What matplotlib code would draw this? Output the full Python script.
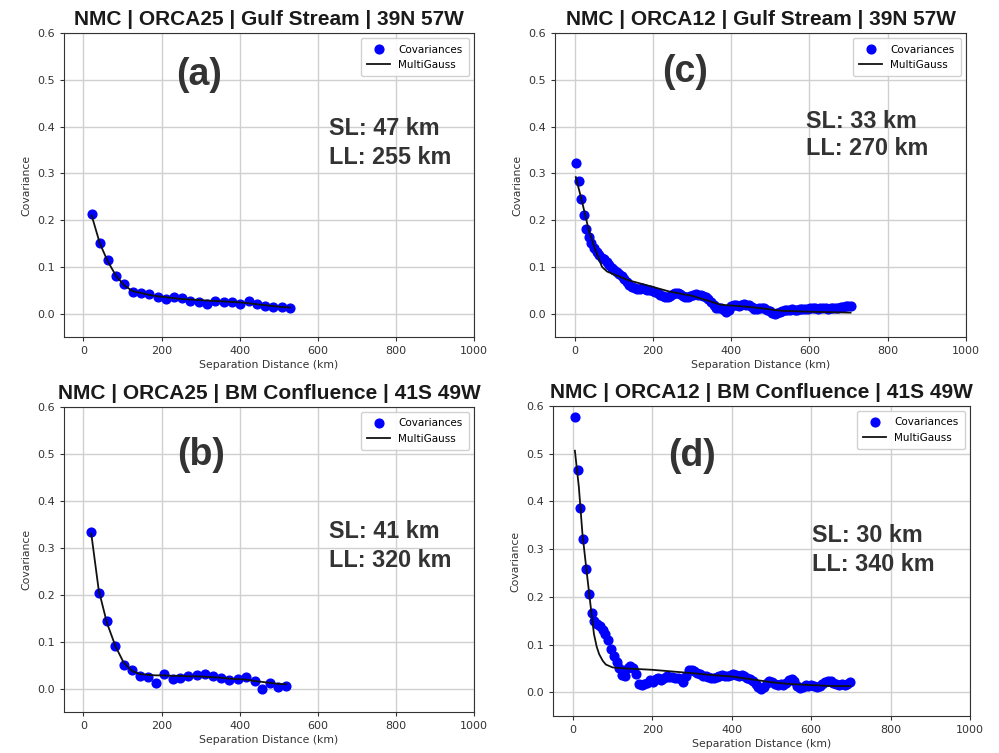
#!/usr/bin/env python3
import matplotlib
matplotlib.use('Agg')
import matplotlib.pyplot as plt

# ---- panel (a): ORCA25 Gulf Stream
dist_a = [21, 42, 62, 84, 105, 126, 148, 169, 190, 211, 232, 253, 274, 295, 316,
          338, 359, 380, 402, 423, 444, 465, 486, 508, 529]
cov_a = [0.213, 0.151, 0.114, 0.081, 0.063, 0.047, 0.044, 0.041, 0.035, 0.031, 0.035, 0.033, 0.028,
         0.024, 0.020, 0.026, 0.025, 0.025, 0.021, 0.028, 0.021, 0.016, 0.015, 0.015, 0.013]
fit_a = [0.210, 0.150, 0.112, 0.080, 0.060, 0.048, 0.044, 0.040, 0.037, 0.035, 0.033, 0.031, 0.030,
         0.029, 0.028, 0.027, 0.026, 0.025, 0.024, 0.022, 0.020, 0.018, 0.016, 0.014, 0.013]

# ---- panel (b): ORCA25 BM Confluence
dist_b = [20, 39, 60, 82, 103, 125, 144, 165, 186, 207, 228, 248, 268, 290, 311,
          332, 352, 373, 395, 416, 438, 458, 478, 498, 519]
cov_b = [0.333, 0.204, 0.143, 0.091, 0.050, 0.039, 0.026, 0.024, 0.011, 0.030, 0.021, 0.023, 0.026,
         0.028, 0.030, 0.026, 0.023, 0.018, 0.020, 0.024, 0.016, 0.000, 0.011, 0.004, 0.006]
fit_b = [0.330, 0.210, 0.140, 0.090, 0.055, 0.037, 0.031, 0.029, 0.028, 0.028, 0.027, 0.027, 0.026,
         0.026, 0.025, 0.024, 0.023, 0.021, 0.020, 0.019, 0.016, 0.014, 0.012, 0.010, 0.009]

# ---- panel (c): ORCA12 Gulf Stream
dist_c = [4, 10, 17, 23, 30, 36, 43, 49, 56, 62, 69, 75, 82, 88, 95, 101, 108, 114, 121, 127,
          134, 140, 147, 153, 160, 166, 173, 179, 186, 192, 199, 205, 212, 218, 225, 231, 238,
          244, 251, 257, 264, 270, 277, 283, 290, 296, 303, 309, 316, 322, 329, 335, 342, 348,
          355, 361, 368, 374, 381, 387, 394, 400, 407, 413, 420, 426, 433, 439, 446, 452, 459,
          465, 472, 478, 485, 491, 498, 504, 511, 517, 524, 530, 537, 543, 550, 556, 563, 569,
          576, 582, 589, 595, 602, 608, 615, 621, 628, 634, 641, 647, 654, 660, 667, 673, 680,
          686, 693, 699, 706]
cov_c = [0.322, 0.284, 0.246, 0.211, 0.182, 0.164, 0.152, 0.141, 0.132, 0.126, 0.120, 0.116,
         0.111, 0.104, 0.098, 0.094, 0.089, 0.085, 0.080, 0.075, 0.068, 0.061, 0.057, 0.054,
         0.053, 0.052, 0.054, 0.053, 0.051, 0.050, 0.048, 0.047, 0.043, 0.040, 0.038, 0.036,
         0.036, 0.037, 0.041, 0.045, 0.044, 0.041, 0.038, 0.036, 0.035, 0.037, 0.040, 0.041,
         0.039, 0.040, 0.038, 0.036, 0.031, 0.025, 0.018, 0.013, 0.011, 0.012, 0.008, 0.004,
         0.008, 0.016, 0.019, 0.018, 0.017, 0.019, 0.020, 0.019, 0.018, 0.015, 0.010, 0.009,
         0.011, 0.013, 0.011, 0.008, 0.005, 0.002, 0.000, 0.001, 0.004, 0.006, 0.008, 0.007,
         0.008, 0.009, 0.008, 0.007, 0.009, 0.010, 0.009, 0.009, 0.011, 0.012, 0.011, 0.010,
         0.011, 0.012, 0.011, 0.010, 0.012, 0.012, 0.011, 0.013, 0.015, 0.014, 0.016, 0.017,
         0.016]
fitdist_c = [3, 18, 36, 53, 70, 83, 100, 139, 200, 243, 300, 347, 373, 451, 529, 600, 705]
fit_c = [0.292, 0.243, 0.179, 0.136, 0.100, 0.090, 0.084, 0.071, 0.057, 0.047, 0.038, 0.026,
         0.019, 0.014, 0.006, 0.004, 0.002]

# ---- panel (d): ORCA12 BM Confluence
dist_d = [5, 12, 19, 26, 33, 40, 47, 54, 61, 68, 75, 82, 89, 96, 103, 110, 117, 124, 131, 138,
          145, 152, 159, 166, 173, 180, 187, 194, 201, 208, 215, 222, 229, 236, 243, 250, 257,
          264, 271, 278, 285, 292, 299, 306, 313, 320, 327, 334, 341, 348, 355, 362, 369, 376,
          383, 390, 397, 404, 411, 418, 425, 432, 439, 446, 453, 460, 467, 474, 481, 488, 495,
          502, 509, 516, 523, 530, 537, 544, 551, 558, 565, 572, 579, 586, 593, 600, 607, 614,
          621, 628, 635, 642, 649, 656, 663, 670, 677, 684, 691, 698]
cov_d = [0.577, 0.466, 0.385, 0.322, 0.259, 0.206, 0.166, 0.150, 0.144, 0.138, 0.130, 0.121,
         0.109, 0.090, 0.075, 0.063, 0.050, 0.036, 0.035, 0.050, 0.056, 0.050, 0.038, 0.018,
         0.015, 0.017, 0.020, 0.026, 0.022, 0.027, 0.029, 0.025, 0.030, 0.033, 0.031, 0.032,
         0.029, 0.030, 0.027, 0.022, 0.033, 0.047, 0.046, 0.044, 0.041, 0.038, 0.034, 0.035,
         0.031, 0.030, 0.029, 0.032, 0.034, 0.036, 0.035, 0.033, 0.036, 0.038, 0.037, 0.035,
         0.036, 0.034, 0.030, 0.028, 0.024, 0.018, 0.010, 0.007, 0.012, 0.019, 0.024, 0.022,
         0.017, 0.016, 0.018, 0.015, 0.019, 0.025, 0.028, 0.024, 0.014, 0.008, 0.011, 0.016,
         0.014, 0.015, 0.013, 0.011, 0.014, 0.017, 0.021, 0.024, 0.023, 0.020, 0.017, 0.015,
         0.017, 0.016, 0.018, 0.021]
fitdist_d = [5, 15, 24, 35, 45, 53, 60, 66, 75, 83, 100, 130, 200, 300, 350, 400, 450, 500,
             550, 600, 650, 698]
fit_d = [0.506, 0.430, 0.332, 0.250, 0.178, 0.122, 0.095, 0.080, 0.066, 0.058, 0.052, 0.050,
         0.047, 0.040, 0.036, 0.033, 0.027, 0.021, 0.017, 0.015, 0.013, 0.013]

titles = ['NMC | ORCA25 | Gulf Stream | 39N 57W', 'NMC | ORCA25 | BM Confluence | 41S 49W',
          'NMC | ORCA12 | Gulf Stream | 39N 57W', 'NMC | ORCA12 | BM Confluence | 41S 49W']
panel_tags = ['(a)', '(b)', '(c)', '(d)']
sl_labels = ['SL: 47 km', 'SL: 41 km', 'SL: 33 km', 'SL: 30 km']
ll_labels = ['LL: 255 km', 'LL: 320 km', 'LL: 270 km', 'LL: 340 km']


def make_panel(fig, rect, dist, cov, fitdist, fit, title, tag, tagpos, sl, ll, slpos):
    axis = fig.add_axes(rect)
    axis.plot(dist, cov, 'o', color='blue', markersize=6.3, label='Covariances', zorder=3)
    axis.plot(fitdist, fit, '-', color='#111111', linewidth=1.3, label='MultiGauss', zorder=4)
    axis.set_xlim(-50, 1000)
    axis.set_ylim(-0.05, 0.6)
    axis.set_xticks([0, 200, 400, 600, 800, 1000])
    axis.set_yticks([0.0, 0.1, 0.2, 0.3, 0.4, 0.5, 0.6])
    axis.grid(True, color='#d0d0d0', linewidth=1.0)
    axis.set_axisbelow(True)
    axis.tick_params(labelsize=8, colors='#333333', length=3)
    for spine in axis.spines.values():
        spine.set_color('#333333')
    axis.set_xlabel('Separation Distance (km)', fontsize=7.8, color='#333333', labelpad=3)
    axis.set_ylabel('Covariance', fontsize=7.8, color='#333333')
    axis.set_title(title, fontsize=15, fontweight='bold', family='Liberation Sans',
                   color='#1a1a1a', pad=6)
    axis.legend(loc='upper right', fontsize=7.5, handlelength=2.2, borderpad=0.6,
                labelspacing=0.5, framealpha=0.9, edgecolor='#cccccc')
    axis.text(tagpos[0], tagpos[1], tag, fontsize=27, fontweight='bold', family='Liberation Sans',
              color='#333333', ha='center', va='center')
    axis.text(slpos[0], slpos[1], sl, fontsize=16.8, fontweight='bold', family='Liberation Sans',
              color='#333333', ha='left', va='baseline')
    axis.text(slpos[0], slpos[2], ll, fontsize=16.8, fontweight='bold', family='Liberation Sans',
              color='#333333', ha='left', va='baseline')
    return axis


def main():
    fig = plt.figure(figsize=(9.99, 7.53), dpi=100)
    make_panel(fig, [0.064, 0.5525, 0.4105, 0.4035], dist_a, cov_a, dist_a, fit_a,
               titles[0], panel_tags[0], (297, 0.51), sl_labels[0], ll_labels[0], (628, 0.382, 0.32))
    make_panel(fig, [0.064, 0.0545, 0.4105, 0.405], dist_b, cov_b, dist_b, fit_b,
               titles[1], panel_tags[1], (302, 0.498), sl_labels[1], ll_labels[1], (628, 0.321, 0.26))
    make_panel(fig, [0.5556, 0.5525, 0.4114, 0.4035], dist_c, cov_c, fitdist_c, fit_c,
               titles[2], panel_tags[2], (282, 0.516), sl_labels[2], ll_labels[2], (591, 0.398, 0.34))
    make_panel(fig, [0.5536, 0.049, 0.4174, 0.412], dist_d, cov_d, fitdist_d, fit_d,
               titles[3], panel_tags[3], (299, 0.496), sl_labels[3], ll_labels[3], (602, 0.314, 0.255))
    fig.savefig('out.png', dpi=100)
    plt.close()


if __name__ == "__main__":
    main()
